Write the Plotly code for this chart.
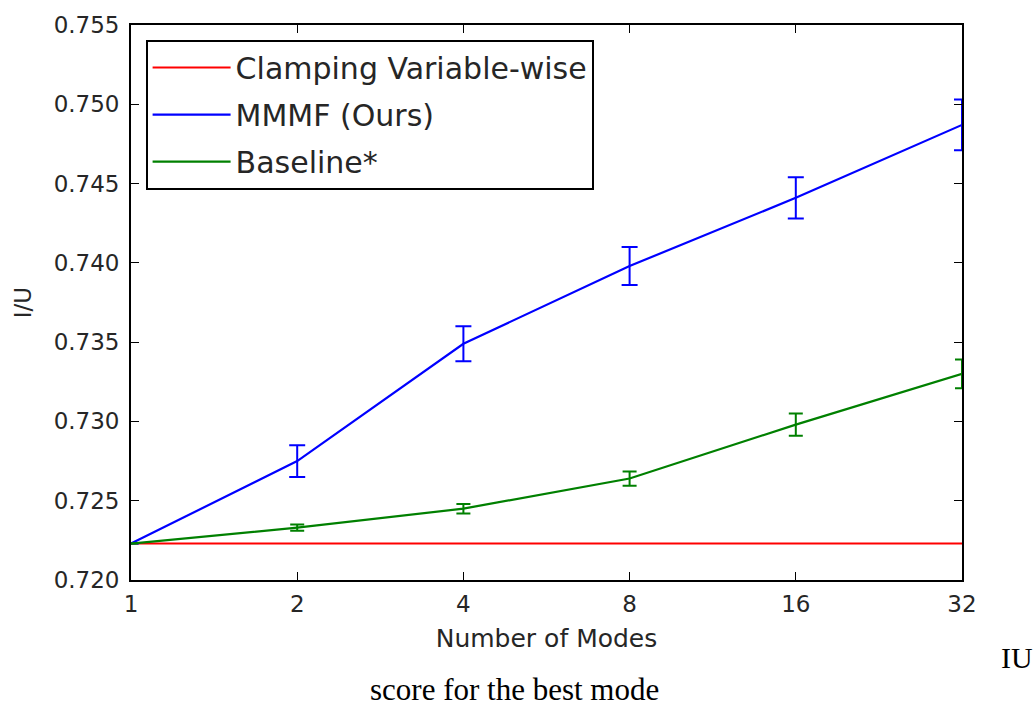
import plotly.graph_objects as go

# Number of modes (log2 axis)
modes = [1, 2, 4, 8, 16, 32]

# Intersection-over-union scores
clamping_iu = [0.7223, 0.7223, 0.7223, 0.7223, 0.7223, 0.7223]
mmmf_iu = [0.7223, 0.7275, 0.7349, 0.7398, 0.7441, 0.7487]
mmmf_err = [0.0, 0.0010, 0.0011, 0.0012, 0.0013, 0.0016]
baseline_iu = [0.7223, 0.7233, 0.7245, 0.7264, 0.7298, 0.7330]
baseline_err = [0.0, 0.0002, 0.0003, 0.00045, 0.0007, 0.0009]

y_ticks = [0.720, 0.725, 0.730, 0.735, 0.740, 0.745, 0.750, 0.755]
x_tick_labels = ["1", "2", "4", "8", "16", "32"]

FONT = "DejaVu Sans"
TEXT = "#262626"

# Plot-area placement in pixels
L, R, T, B = 131, 74, 25, 128
W, H = 1036, 708
plot_w = W - L - R
plot_h = H - T - B


def px_to_paper(px, py):
    return (px - L) / plot_w, 1 - (py - T) / plot_h


fig = go.Figure()

fig.add_trace(go.Scatter(
    x=modes, y=clamping_iu, mode="lines", name="Clamping Variable-wise",
    line=dict(color="#ff0000", width=2), legendgroup="a",
))
fig.add_trace(go.Scatter(
    x=modes, y=mmmf_iu, mode="lines", name="MMMF (Ours)",
    line=dict(color="#0000ff", width=2.2), legendgroup="b",
    error_y=dict(type="data", array=mmmf_err, visible=True,
                 color="#0000ff", thickness=2, width=8),
))
fig.add_trace(go.Scatter(
    x=modes, y=baseline_iu, mode="lines", name="Baseline*",
    line=dict(color="#008000", width=2.2), legendgroup="c",
    error_y=dict(type="data", array=baseline_err, visible=True,
                 color="#008000", thickness=2, width=7),
))

axis_common = dict(
    showgrid=False, zeroline=False, showline=True, linecolor="black",
    linewidth=1.8, mirror="ticks", ticks="inside", ticklen=8,
    tickcolor="black", tickwidth=1,
    tickfont=dict(family=FONT, size=23, color=TEXT),
)

fig.update_xaxes(
    type="log", range=[0, 1.50515], tickmode="array",
    tickvals=modes, ticktext=x_tick_labels, ticklabelstandoff=2,
    title=dict(text="Number of Modes", font=dict(family=FONT, size=25, color=TEXT),
               standoff=14),
    **axis_common,
)
fig.update_yaxes(
    range=[0.720, 0.755], tickmode="array", tickvals=y_ticks,
    ticktext=[f"{v:.3f}" for v in y_ticks], ticklabelstandoff=5,
    title=dict(text="I/U", font=dict(family=FONT, size=23, color=TEXT), standoff=16),
    **axis_common,
)

lx, ly = px_to_paper(146, 40)
iu_x, iu_y = px_to_paper(1017, 658)
cap_x, cap_y = px_to_paper(514, 689)

fig.update_layout(
    width=W, height=H,
    margin=dict(l=L, r=R, t=T, b=B),
    paper_bgcolor="white", plot_bgcolor="white",
    showlegend=True,
    legend=dict(
        x=lx, y=ly, xanchor="left", yanchor="top",
        bgcolor="white", bordercolor="black", borderwidth=1.6,
        font=dict(family=FONT, size=30, color=TEXT),
        traceorder="grouped", tracegroupgap=5,
        itemwidth=78,
    ),
    annotations=[
        dict(text="IU", x=iu_x, y=iu_y, xref="paper", yref="paper",
             xanchor="center", yanchor="middle", showarrow=False,
             font=dict(family="Liberation Serif", size=30, color="black")),
        dict(text="score for the best mode", x=cap_x, y=cap_y, xref="paper", yref="paper",
             xanchor="center", yanchor="middle", showarrow=False,
             font=dict(family="Liberation Serif", size=31, color="black")),
    ],
)

fig.write_html("out.html")
